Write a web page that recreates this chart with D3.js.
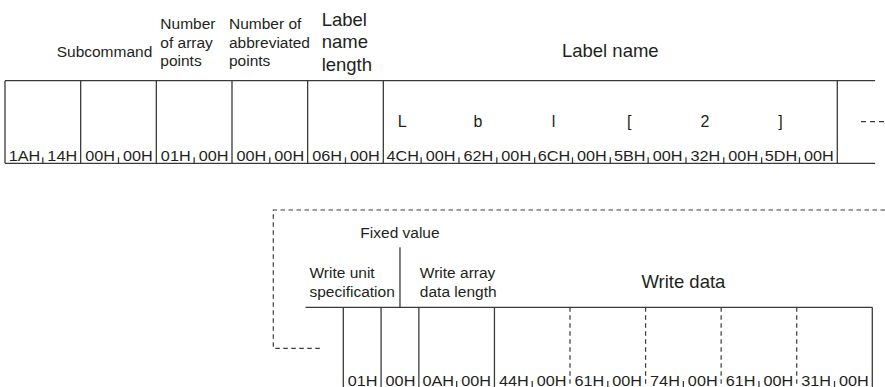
<!DOCTYPE html>
<html>
<head>
  <meta charset="utf-8">
  <title>Array label write frame</title>
  <script src="https://d3js.org/d3.v7.min.js"></script>
  <style>
    body { margin: 0; background: #fff; }
    svg { display: block; }
    text { font-family: "Liberation Sans", Arial, sans-serif; fill: #231f20; }
    .line { stroke: #3a3a3a; stroke-width: 1.3px; fill: none; }
    .dash { stroke: #3a3a3a; stroke-width: 1.2px; fill: none; stroke-dasharray: 4.5,3.5; }
  </style>
</head>
<body>
<div id="chart"></div>
<script>

  // --- data ---
  // top frame: bytes, and cell sizes in bytes
  var topBytes = ["1AH","14H","00H","00H","01H","00H","00H","00H","06H","00H",
                  "4CH","00H","62H","00H","6CH","00H","5BH","00H","32H","00H","5DH","00H"];
  var topCells = [2, 2, 2, 2, 2, 12];
  var labelChars = ["L", "b", "l", "[", "2", "]"];
  var topHeaders = [
    { cell: 1, lines: ["Subcommand"], align: "end" },
    { cell: 2, lines: ["Number", "of array", "points"], align: "start" },
    { cell: 3, lines: ["Number of", "abbreviated", "points"], align: "start" },
    { cell: 4, lines: ["Label", "name", "length"], align: "start", big: true },
    { cell: 5, lines: ["Label name"], align: "middle", big: true }
  ];

  // bottom frame
  var bottomBytes = ["01H","00H","0AH","00H","44H","00H","61H","00H","74H","00H","61H","00H","31H","00H"];
  var bottomCells = [1, 1, 2, 2, 2, 2, 2, 2];
  // is each cell boundary dashed?
  var bottomDashed = [false, false, false, false, true, true, true, true, false];
  var bottomHeaders = [
    { cell: 0, lines: ["Write unit", "specification"], align: "start" },
    { cell: 2, lines: ["Write array", "data length"], align: "start" },
    { cell: 3, lines: ["Write data"], align: "middle", big: true, span: 5 }
  ];
  var fixedLabel = "Fixed value";

  var width = 885, height = 387;

  var svg = d3.select("#chart").append("svg")
      .attr("width", width).attr("height", height);

  // byte scales
  var xTop = d3.scaleLinear().domain([0, topBytes.length]).range([5, 837.3]);
  var xBot = d3.scaleLinear().domain([0, bottomBytes.length]).range([343.3, 872.3]);

  // cumulative cell boundaries
  var bounds = function(cells) {
    var b = [0];
    cells.forEach(function(c) { b.push(b[b.length - 1] + c); });
    return b;
  };
  var topB = bounds(topCells), botB = bounds(bottomCells);

  // ---------- top frame ----------
  var yT0 = 80.7, yT1 = 163.3;
  var gt = svg.append("g");

  gt.selectAll(".hline").data([yT0, yT1]).enter().append("line")
      .attr("class", "line")
      .attr("x1", xTop(0)).attr("x2", xTop(topBytes.length + 1))
      .attr("y1", function(d) { return d; }).attr("y2", function(d) { return d; });

  gt.selectAll(".vline").data(topB).enter().append("line")
      .attr("class", "line")
      .attr("x1", function(d) { return xTop(d); }).attr("x2", function(d) { return xTop(d); })
      .attr("y1", yT0).attr("y2", yT1);

  // byte separator ticks
  var topTicks = d3.range(1, topBytes.length).filter(function(i) { return topB.indexOf(i) < 0; });
  gt.selectAll(".tick").data(topTicks).enter().append("line")
      .attr("class", "line")
      .attr("x1", function(d) { return xTop(d); }).attr("x2", function(d) { return xTop(d); })
      .attr("y1", yT1 - 6).attr("y2", yT1);

  gt.selectAll(".hex").data(topBytes).enter().append("text")
      .attr("text-anchor", "middle")
      .attr("font-size", "14px")
      .attr("transform", function(d, i) {
        return "translate(" + (xTop(i + 0.5) + 0.5) + "," + 160.5 + ")scale(1.16,1)";
      })
      .text(function(d) { return d; });

  // label name characters, over first byte of each pair
  gt.selectAll(".chr").data(labelChars).enter().append("text")
      .attr("text-anchor", "middle")
      .attr("font-size", "16px")
      .attr("x", function(d, i) { return xTop(topB[5] + i * 2 + 0.5); })
      .attr("y", 126.7)
      .text(function(d) { return d; });

  // continuation dashes
  gt.append("line").attr("class", "dash")
      .style("stroke-dasharray", "5,4")
      .attr("x1", 861).attr("x2", width).attr("y1", 121.7).attr("y2", 121.7);

  // headers
  topHeaders.forEach(function(h) {
    var fs = h.big ? 18.5 : 15.5, lh = h.big ? 22.3 : 18.3;
    var x;
    if (h.align === "end") x = xTop(topB[h.cell + 1]) - 4;
    else if (h.align === "middle") x = (xTop(topB[h.cell]) + xTop(topB[h.cell + 1])) / 2;
    else x = xTop(topB[h.cell]) + (h.big ? 14 : 4);
    if (h.cell === 3) x = xTop(topB[h.cell]) - 3;
    var yBase = h.lines.length === 1 ? 56.7 : (h.big ? 26 : 29.3);
    var t = gt.append("text")
        .attr("text-anchor", h.align)
        .attr("font-size", fs + "px");
    h.lines.forEach(function(l, i) {
      t.append("tspan").attr("x", x).attr("y", yBase + i * lh).text(l);
    });
  });

  // ---------- bottom frame ----------
  var yB0 = 307.3, yB1 = height;
  var gb = svg.append("g");

  // dashed bracket linking the two frames
  gb.append("path").attr("class", "dash")
      .attr("d", "M" + width + ",210H273.3V348.3H320");

  gb.append("line").attr("class", "line")
      .attr("x1", xBot(-1)).attr("x2", xBot(bottomBytes.length))
      .attr("y1", yB0).attr("y2", yB0);

  gb.selectAll(".vline").data(botB).enter().append("line")
      .attr("class", function(d, i) { return bottomDashed[i] ? "dash" : "line"; })
      .attr("x1", function(d) { return xBot(d); }).attr("x2", function(d) { return xBot(d); })
      .attr("y1", yB0).attr("y2", yB1);

  var botTicks = d3.range(1, bottomBytes.length).filter(function(i) { return botB.indexOf(i) < 0; });
  gb.selectAll(".tick").data(botTicks).enter().append("line")
      .attr("class", "line")
      .attr("x1", function(d) { return xBot(d); }).attr("x2", function(d) { return xBot(d); })
      .attr("y1", yB1 - 6).attr("y2", yB1);

  gb.selectAll(".hex").data(bottomBytes).enter().append("text")
      .attr("text-anchor", "middle")
      .attr("font-size", "14px")
      .attr("transform", function(d, i) {
        return "translate(" + (xBot(i + 0.5) + 0.5) + "," + 385.5 + ")scale(1.16,1)";
      })
      .text(function(d) { return d; });

  // fixed value pointer
  gb.append("line").attr("class", "line")
      .attr("x1", xBot(1.5)).attr("x2", xBot(1.5))
      .attr("y1", 247.3).attr("y2", yB0);
  gb.append("text")
      .attr("text-anchor", "middle").attr("font-size", "15.5px")
      .attr("x", xBot(1.5)).attr("y", 238.3)
      .text(fixedLabel);

  bottomHeaders.forEach(function(h) {
    var fs = h.big ? 18.5 : 15.5;
    var x;
    if (h.align === "middle") x = (xBot(botB[h.cell]) + xBot(botB[h.cell + h.span])) / 2;
    else x = h.cell === 0 ? xBot(-1) + 4 : xBot(botB[h.cell]) + 1;
    var yBase = h.lines.length === 1 ? 288.3 : 278.3;
    var t = gb.append("text")
        .attr("text-anchor", h.align)
        .attr("font-size", fs + "px");
    h.lines.forEach(function(l, i) {
      t.append("tspan").attr("x", x).attr("y", yBase + i * 19).text(l);
    });
  });

</script>
</body>
</html>
